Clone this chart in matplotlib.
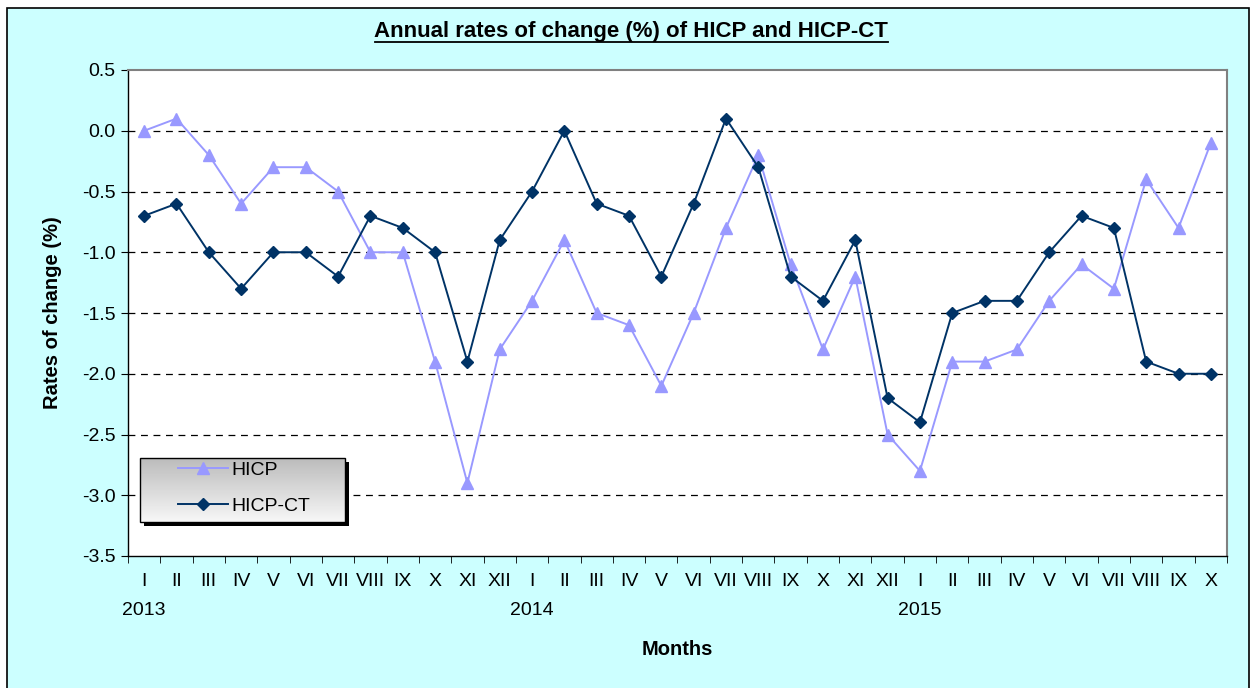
import matplotlib
matplotlib.use("Agg")
import matplotlib.pyplot as plt
from matplotlib.patches import Rectangle
from matplotlib.transforms import blended_transform_factory
import numpy as np

plt.rcParams['font.family'] = ['Liberation Sans', 'DejaVu Sans']

months = ["I", "II", "III", "IV", "V", "VI", "VII", "VIII", "IX", "X", "XI", "XII",
          "I", "II", "III", "IV", "V", "VI", "VII", "VIII", "IX", "X", "XI", "XII",
          "I", "II", "III", "IV", "V", "VI", "VII", "VIII", "IX", "X"]
years = {"2013": 0, "2014": 12, "2015": 24}

hicp = [0.0, 0.1, -0.2, -0.6, -0.3, -0.3, -0.5, -1.0, -1.0, -1.9, -2.9, -1.8,
        -1.4, -0.9, -1.5, -1.6, -2.1, -1.5, -0.8, -0.2, -1.1, -1.8, -1.2, -2.5,
        -2.8, -1.9, -1.9, -1.8, -1.4, -1.1, -1.3, -0.4, -0.8, -0.1]
hicp_ct = [-0.7, -0.6, -1.0, -1.3, -1.0, -1.0, -1.2, -0.7, -0.8, -1.0, -1.9, -0.9,
           -0.5, 0.0, -0.6, -0.7, -1.2, -0.6, 0.1, -0.3, -1.2, -1.4, -0.9, -2.2,
           -2.4, -1.5, -1.4, -1.4, -1.0, -0.7, -0.8, -1.9, -2.0, -2.0]

FS = 14
W, H = 1254, 688

fig = plt.figure(figsize=(W / 100, H / 100), dpi=100)
fig.patch.set_facecolor('white')
bg = Rectangle((7/W, -0.01), 1 - 12/W, 1.01 - 8/H, transform=fig.transFigure,
               facecolor='#CCFFFF', edgecolor='black', linewidth=1.2, zorder=-10)
fig.add_artist(bg)

AX_L, AX_R, AX_T, AX_B = 128, 1227, 70, 556
ax = fig.add_axes([AX_L/W, (H-AX_B)/H, (AX_R-AX_L)/W, (AX_B-AX_T)/H])
ax.set_zorder(1)
ax.set_facecolor('white')

x = np.arange(len(months))
ax.plot(x, hicp, color='#9999FF', marker='^', markersize=8, linewidth=1.4, label='HICP', zorder=3)
ax.plot(x, hicp_ct, color='#003366', marker='D', markersize=6.5, linewidth=1.4, label='HICP-CT', zorder=4)

ax.set_xlim(-0.5, len(months) - 0.5)
ax.set_ylim(-3.5, 0.5)
yt = np.arange(-3.5, 0.51, 0.5)
ax.set_yticks(yt)
ax.set_yticklabels([f"{v:.1f}" for v in yt], fontsize=FS)
for v in np.arange(-3.0, 0.01, 0.5):
    ax.axhline(v, color='black', linestyle=(0, (5.5, 4.5)), linewidth=0.9, zorder=1)

ax.set_xticks(x)
ax.set_xticklabels(months, fontsize=FS)
ax.tick_params(axis='x', which='major', length=0, pad=12)
ax.set_xticks(np.arange(-0.5, len(months), 1), minor=True)
ax.tick_params(axis='x', which='minor', length=5, direction='out', color='black')
ax.tick_params(axis='y', length=5, direction='out', pad=4)

trans = blended_transform_factory(ax.transData, ax.transAxes)
for yr, idx in years.items():
    ax.text(idx, -0.112, yr, transform=trans, ha='center', va='center', fontsize=FS)

for s in ['top', 'right']:
    ax.spines[s].set_color('#808080')
    ax.spines[s].set_linewidth(1.5)
for s in ['left', 'bottom']:
    ax.spines[s].set_color('black')
    ax.spines[s].set_linewidth(1.0)

ax.set_ylabel('Rates of change (%)', fontsize=14.5, fontweight='bold', labelpad=14)
ax.set_xlabel('Months', fontsize=14.5, fontweight='bold', labelpad=36)

fig.text(631/W, 1 - 31/H, 'Annual rates of change (%) of HICP and HICP-CT',
         ha='center', va='center', fontsize=16, fontweight='bold')
fig.add_artist(plt.Line2D([375/W, 888/W], [1 - 42/H, 1 - 42/H], color='black', linewidth=1.3))

# legend box (gradient + shadow), in axes coords from pixel layout
def ax_x(px):
    return (px - AX_L) / (AX_R - AX_L)

def ax_y(py):
    return (AX_B - py) / (AX_B - AX_T)

LB_L, LB_R, LB_T, LB_B = 140, 345, 458, 522
sh = 4
ax.add_patch(Rectangle((ax_x(LB_L + sh), ax_y(LB_B + sh)), ax_x(LB_R + sh) - ax_x(LB_L + sh),
                       ax_y(LB_T + sh) - ax_y(LB_B + sh), transform=ax.transAxes,
                       facecolor='black', edgecolor='none', zorder=8, clip_on=False))
grad = np.linspace(0, 1, 64).reshape(-1, 1)
ax.imshow(grad, cmap=matplotlib.colors.LinearSegmentedColormap.from_list('g', ['#bcbcbc', '#f7f7f7']),
          extent=[ax_x(LB_L), ax_x(LB_R), ax_y(LB_B), ax_y(LB_T)], transform=ax.transAxes,
          aspect='auto', zorder=9, origin='upper', interpolation='bilinear')
ax.add_patch(Rectangle((ax_x(LB_L), ax_y(LB_B)), ax_x(LB_R) - ax_x(LB_L), ax_y(LB_T) - ax_y(LB_B),
                       transform=ax.transAxes, facecolor='none', edgecolor='black', linewidth=1.0,
                       zorder=10))
ax.set_xlim(-0.5, len(months) - 0.5)
ax.set_ylim(-3.5, 0.5)

leg = ax.legend(loc='upper left', bbox_to_anchor=(ax_x(178), ax_y(461)), borderaxespad=0,
                fontsize=FS, frameon=False, handlelength=2.55, labelspacing=0.95,
                borderpad=0, handletextpad=0.2)
leg.set_zorder(11)

fig.savefig('out.png', dpi=100)
